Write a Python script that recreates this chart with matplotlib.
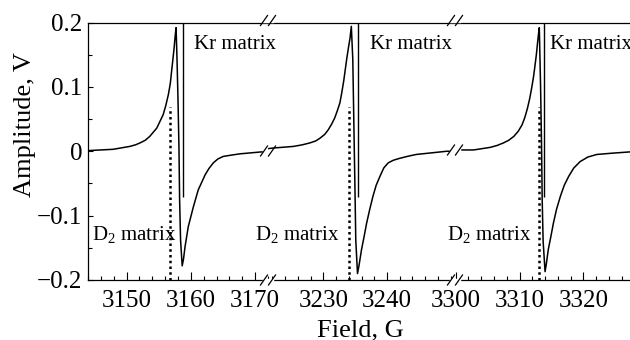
import matplotlib
matplotlib.use("Agg")
import matplotlib.pyplot as plt
from matplotlib.ticker import MultipleLocator, FixedLocator, FixedFormatter

plt.rcParams['font.family'] = ['Liberation Serif', 'DejaVu Serif']
plt.rcParams['mathtext.fontset'] = 'custom'
plt.rcParams['mathtext.rm'] = 'Liberation Serif'
plt.rcParams['mathtext.it'] = 'Liberation Serif:italic'

# ---- data ----
seg1_field = [3144.0, 3147.9, 3150.5, 3151.4, 3152.1, 3152.9, 3153.6, 3154.7, 3155.7, 3156.1,
              3156.5, 3156.8, 3157.0, 3157.2, 3157.4, 3157.55, 3157.7, 3157.85, 3158.0, 3158.15,
              3158.25, 3158.4, 3158.65, 3158.85, 3159.1, 3159.6, 3160.4, 3161.15, 3162.2, 3162.8,
              3163.5, 3164.2, 3165.05, 3166.3, 3167.65, 3171.0, 3172.0]
seg1_amp = [0.001, 0.003, 0.0075, 0.010, 0.013, 0.017, 0.023, 0.036, 0.057, 0.071,
            0.088, 0.105, 0.124, 0.142, 0.161, 0.178, 0.192, 0.142, 0.08, 0.005,
            -0.075, -0.138, -0.178, -0.168, -0.148, -0.117, -0.086, -0.060, -0.037, -0.027,
            -0.018, -0.012, -0.008, -0.006, -0.004, -0.001, -0.001]

seg2_field = [3221.3, 3222.1, 3225.3, 3226.7, 3227.9, 3228.8, 3229.5, 3230.2, 3230.75, 3231.3,
              3231.8, 3232.2, 3232.6, 3232.9, 3233.2, 3233.45, 3233.7, 3233.95, 3234.2, 3234.4,
              3234.63, 3234.84, 3235.0, 3235.1, 3235.37, 3235.6, 3236.0, 3236.4, 3236.8, 3237.3,
              3237.8, 3238.3, 3238.9, 3239.5, 3240.2, 3241.0, 3242.0, 3243.2, 3244.6, 3249.4,
              3250.7]
seg2_amp = [0.004, 0.005, 0.0075, 0.010, 0.013, 0.016, 0.0205, 0.026, 0.033, 0.042,
            0.052, 0.063, 0.075, 0.091, 0.109, 0.127, 0.145, 0.161, 0.176, 0.194,
            0.143, 0.018, -0.075, -0.138, -0.19, -0.178, -0.153, -0.133, -0.112, -0.090,
            -0.070, -0.053, -0.039, -0.026, -0.018, -0.014, -0.011, -0.008, -0.005, 0.0,
            0.0]

seg3_field = [3299.9, 3302.8, 3304.1, 3305.4, 3306.5, 3307.5, 3308.3, 3309.1, 3309.8, 3310.4,
              3310.85, 3311.25, 3311.6, 3311.9, 3312.2, 3312.45, 3312.65, 3312.8, 3312.95, 3313.1,
              3313.3, 3313.45, 3313.55, 3313.7, 3314.0, 3314.2, 3314.5, 3314.9, 3315.3, 3315.8,
              3316.4, 3317.0, 3317.7, 3318.5, 3319.5, 3320.7, 3322.1, 3324.5, 3327.3]
seg3_amp = [0.002, 0.002, 0.004, 0.006, 0.009, 0.013, 0.017, 0.023, 0.031, 0.041,
            0.053, 0.067, 0.082, 0.098, 0.116, 0.135, 0.151, 0.166, 0.180, 0.192,
            0.10, 0.01, -0.075, -0.14, -0.187, -0.175, -0.153, -0.133, -0.112, -0.090,
            -0.070, -0.053, -0.039, -0.026, -0.016, -0.009, -0.005, -0.003, -0.001]

x_ranges = [(3144.0, 3172.0), (3221.3, 3250.7), (3299.9, 3327.3)]
xtick_major = [[3150, 3160, 3170], [3230, 3240], [3300, 3310, 3320]]
kr_field = [3158.7, 3235.5, 3313.9]
kr_span = (-0.071, 0.2)
d2_field = [3156.75, 3234.0, 3313.1]
d2_span = (-0.2, 0.068)
kr_text_field = [3160.5, 3237.3, 3314.8]
d2_text_field = [3144.6, 3219.25, 3298.7]
kr_label = 'Kr matrix'
d2_label = r'D$_2$ matrix'
ytick_vals = [-0.2, -0.1, 0.0, 0.1, 0.2]
ytick_labels = ['\u22120.2', '\u22120.1', '0', '0.1', '0.2']
xlabel = 'Field, G'
ylabel = 'Amplitude, V'

W, H = 630, 340
fig = plt.figure(figsize=(W / 100, H / 100), dpi=100)
left_px, right_px, top_px, bot_px = 88, 630, 22.5, 280
break_px = [268, 455]
edges = [left_px, break_px[0], break_px[1], right_px]

segs = [(seg1_field, seg1_amp), (seg2_field, seg2_amp), (seg3_field, seg3_amp)]
axes = []
for i in range(3):
    x0, x1 = edges[i], edges[i + 1]
    ax = fig.add_axes([x0 / W, 1 - bot_px / H, (x1 - x0) / W, (bot_px - top_px) / H])
    f, a = segs[i]
    ax.plot(f, a, color='black', lw=1.1, solid_joinstyle='round')
    ax.vlines(kr_field[i], kr_span[0], kr_span[1], color='black', lw=1.0)
    ax.vlines(d2_field[i], d2_span[0], d2_span[1], color='black', lw=1.8,
              linestyles=(0, (1.0, 1.3)))
    ax.text(kr_text_field[i], 0.166, kr_label, fontsize=15, va='center', ha='left')
    ax.text(d2_text_field[i], -0.13, d2_label, fontsize=15, va='center', ha='left')
    ax.set_xlim(*x_ranges[i])
    ax.set_ylim(-0.2, 0.2)
    ax.xaxis.set_major_locator(FixedLocator(xtick_major[i]))
    ax.xaxis.set_minor_locator(MultipleLocator(2))
    ax.tick_params(axis='x', which='both', direction='in', top=False, labelsize=18, pad=7)
    ax.tick_params(axis='x', which='major', length=5.5, width=0.8)
    ax.tick_params(axis='x', which='minor', length=3, width=0.8)
    ax.spines['right'].set_visible(False)
    if i > 0:
        ax.spines['left'].set_visible(False)
        ax.tick_params(axis='y', which='both', left=False, labelleft=False)
    else:
        ax.yaxis.set_major_locator(FixedLocator(ytick_vals))
        ax.yaxis.set_major_formatter(FixedFormatter(ytick_labels))
        ax.yaxis.set_minor_locator(MultipleLocator(0.05))
        ax.tick_params(axis='y', which='both', direction='in', right=False, labelsize=18, pad=4)
        ax.tick_params(axis='y', which='major', length=3.5, width=0.8)
        ax.tick_params(axis='y', which='minor', length=3, width=0.8)
    for s in ax.spines.values():
        s.set_linewidth(0.9)
    ax.patch.set_visible(False)
    axes.append(ax)


def brk(px, py):
    # white gap then two slashes, positioned in figure pixels
    fx = lambda v: v / W
    fy = lambda v: 1 - v / H
    fig.add_artist(plt.Line2D([fx(px - 4), fx(px + 4)], [fy(py), fy(py)], color='white', lw=2.5))
    for dx in (-4, 4):
        fig.add_artist(plt.Line2D([fx(px + dx - 3.5), fx(px + dx + 3.5)],
                                  [fy(py + 5), fy(py - 5)], color='black', lw=0.9))


for bx in break_px:
    brk(bx, top_px - 2)
    brk(bx, bot_px)
brk(break_px[0], 151)
brk(break_px[1], 150)

fig.text(25 / W, 1 - 125 / H, ylabel, rotation=90, ha='center', va='center', fontsize=19)
fig.text(360 / W, 1 - 336 / H, xlabel, ha='center', va='baseline', fontsize=19)

fig.savefig('out.png', dpi=100)
